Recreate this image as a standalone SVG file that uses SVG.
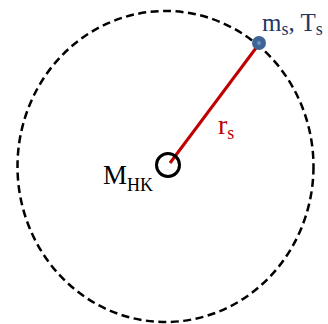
<svg xmlns="http://www.w3.org/2000/svg" width="328" height="324" viewBox="0 0 328 324">
<style>
text{font-family:"Liberation Serif","Times New Roman",serif}
.sub{font-size:18px}
</style>
<rect width="328" height="324" fill="#fff"/>
<g id="orbit"><ellipse cx="165.5" cy="166.5" rx="148" ry="155.5" fill="none" stroke="#000" stroke-width="2.5" stroke-dasharray="8 4.5"/></g>
<g id="connectors"><line x1="170" y1="163" x2="259" y2="44" stroke="#c00000" stroke-width="3"/></g>
<g id="center"><circle cx="168" cy="165" r="11.5" fill="none" stroke="#000" stroke-width="3"/>
<text x="103" y="184" font-size="27">M<tspan class="sub" dy="7">HK</tspan></text></g>
<g id="satellite"><circle cx="259" cy="43" r="7" fill="#3d6596"/><circle cx="259" cy="43" r="2" fill="#6f90c0"/>
<text x="262" y="31" font-size="25" fill="#1f3864">m<tspan class="sub" dy="4">s</tspan><tspan dy="-4">, T</tspan><tspan class="sub" dy="4">s</tspan></text></g>
<g id="radius"><text x="218" y="134" font-size="28" fill="#c00000">r<tspan class="sub" dy="5">s</tspan></text></g>
</svg>
